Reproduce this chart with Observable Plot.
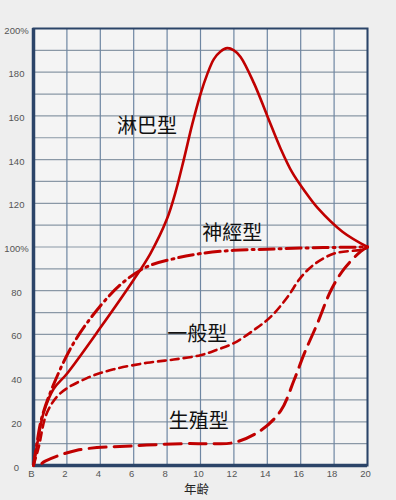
<!DOCTYPE html>
<html>
<head>
<meta charset="utf-8">
<script src="https://cdn.jsdelivr.net/npm/d3@7"></script>
<script src="https://cdn.jsdelivr.net/npm/@observablehq/plot@0.6"></script>
<style>
  html, body { margin: 0; padding: 0; background: #eeeeee; }
  #chart svg { display: block; }
</style>
</head>
<body>
<div id="chart"></div>
<script>
// Lymphoid (淋巴型)
const lymphAge = [0, 0.3, 0.6, 1.2, 2, 4, 6, 7, 8, 8.5, 9, 9.5, 10, 10.4, 10.8, 11.2, 11.6, 12, 12.4, 13.2, 14, 14.8, 15.5, 16.2, 17, 18.5, 20];
const lymphVal = [0, 13, 24, 35, 42, 63, 85, 97, 113, 125, 140, 156, 170, 179, 186, 189.5, 191, 190, 187, 175, 160, 145, 134, 126, 118, 107, 100];
// Neural (神經型)
const neuralAge = [0, 0.2, 0.5, 1.2, 2.4, 4, 5.4, 6.8, 8.6, 10, 12, 14, 16, 18, 20];
const neuralVal = [0, 10, 22, 37, 56, 73, 84, 91, 95, 97, 98.5, 99, 99.5, 99.8, 100];
// General (一般型)
const generalAge = [0, 0.3, 0.8, 1.6, 3.2, 4.8, 6.8, 8.4, 10, 11, 12, 13.2, 14.2, 15.2, 16, 16.8, 18, 19.8, 20];
const generalVal = [0, 8, 24, 33, 40, 44, 47, 48.5, 50.5, 53, 56, 62, 68, 77, 86, 92, 97, 99, 100];
// Reproductive (生殖型)
const reproAge = [0.5, 0.7, 2.6, 6, 9, 10.6, 12, 13.6, 14.8, 15.6, 16.2, 17, 17.8, 18.6, 19.6, 20];
const reproVal = [1, 2, 7, 9, 10, 10, 10.5, 16, 25, 39, 51, 65, 80, 90, 98, 100];

const curveNames = ["淋巴型", "神經型", "一般型", "生殖型"];
const curveLabelAge = [6.8, 11.9, 9.8, 9.9];
const curveLabelVal = [155, 106, 60, 20];

const xTickValues = [0, 2, 4, 6, 8, 10, 12, 14, 16, 18, 20];
const xTickLabels = ["B", "2", "4", "6", "8", "10", "12", "14", "16", "18", "20"];
const yTickValues = [0, 20, 40, 60, 80, 100, 120, 140, 160, 180, 200];
const yTickLabels = ["0", "20", "40", "60", "80", "100%", "120", "140", "160", "180", "200%"];
const yGridValues = [0,10,20,30,40,50,60,70,80,90,100,110,120,130,140,150,160,170,180,190,200];
const xTitle = "年齢";

const toPts = (xs, ys) => xs.map((x, i) => ({x, y: ys[i]}));
const labels = curveNames.map((n, i) => ({n, x: curveLabelAge[i], y: curveLabelVal[i]}));

const red = "#c00000";
const navy = "#2b4468";
const cjk = "'Noto Sans CJK TC', 'Noto Sans CJK JP', sans-serif";

const chart = Plot.plot({
  width: 396,
  height: 500,
  marginLeft: 33,
  marginRight: 29,
  marginTop: 28,
  marginBottom: 35,
  style: {background: "transparent", fontFamily: "'Liberation Sans', Arial, sans-serif"},
  x: {domain: [0, 20]},
  y: {domain: [0, 200]},
  marks: [
    Plot.frame({fill: "#f4f4f4", stroke: null}),
    Plot.gridY(yGridValues, {stroke: "#8a98a6", strokeOpacity: 1, strokeWidth: 1.2}),
    Plot.gridX(xTickValues, {stroke: "#6e86a2", strokeOpacity: 1, strokeWidth: 1.2}),
    Plot.frame({stroke: navy, strokeWidth: 2}),
    Plot.ruleX([0], {stroke: navy, strokeWidth: 3.5}),
    Plot.ruleY([0], {stroke: navy, strokeWidth: 3.5}),
    Plot.line(toPts(lymphAge, lymphVal), {x: "x", y: "y", stroke: red, strokeWidth: 2.6, curve: "catmull-rom"}),
    Plot.line(toPts(neuralAge, neuralVal), {x: "x", y: "y", stroke: red, strokeWidth: 3, curve: "catmull-rom", strokeDasharray: "15,5,2,5"}),
    Plot.line(toPts(generalAge, generalVal), {x: "x", y: "y", stroke: red, strokeWidth: 2.6, curve: "catmull-rom", strokeDasharray: "8,5"}),
    Plot.line(toPts(reproAge, reproVal), {x: "x", y: "y", stroke: red, strokeWidth: 3, curve: "catmull-rom", strokeDasharray: "17,8"}),
    Plot.axisY(yTickValues, {anchor: "left", tickSize: 0, tickPadding: 17, textAnchor: "middle", dy: 2, fontSize: 9.5, fill: "#555", tickFormat: (d) => yTickLabels[yTickValues.indexOf(d)], label: null}),
    Plot.axisX(xTickValues, {anchor: "bottom", tickSize: 0, tickPadding: 5, dx: -2, fontSize: 9.5, fill: "#555", tickFormat: d => xTickLabels[xTickValues.indexOf(d)], label: null}),
    Plot.text([xTitle], {frameAnchor: "bottom", dx: -4, dy: 28, fontSize: 12.5, fill: "#222", fontFamily: cjk}),
    Plot.text(labels, {x: "x", y: "y", text: "n", fontSize: 20, fill: "#111", fontFamily: cjk})
  ]
});
document.getElementById("chart").appendChild(chart);
</script>
</body>
</html>
